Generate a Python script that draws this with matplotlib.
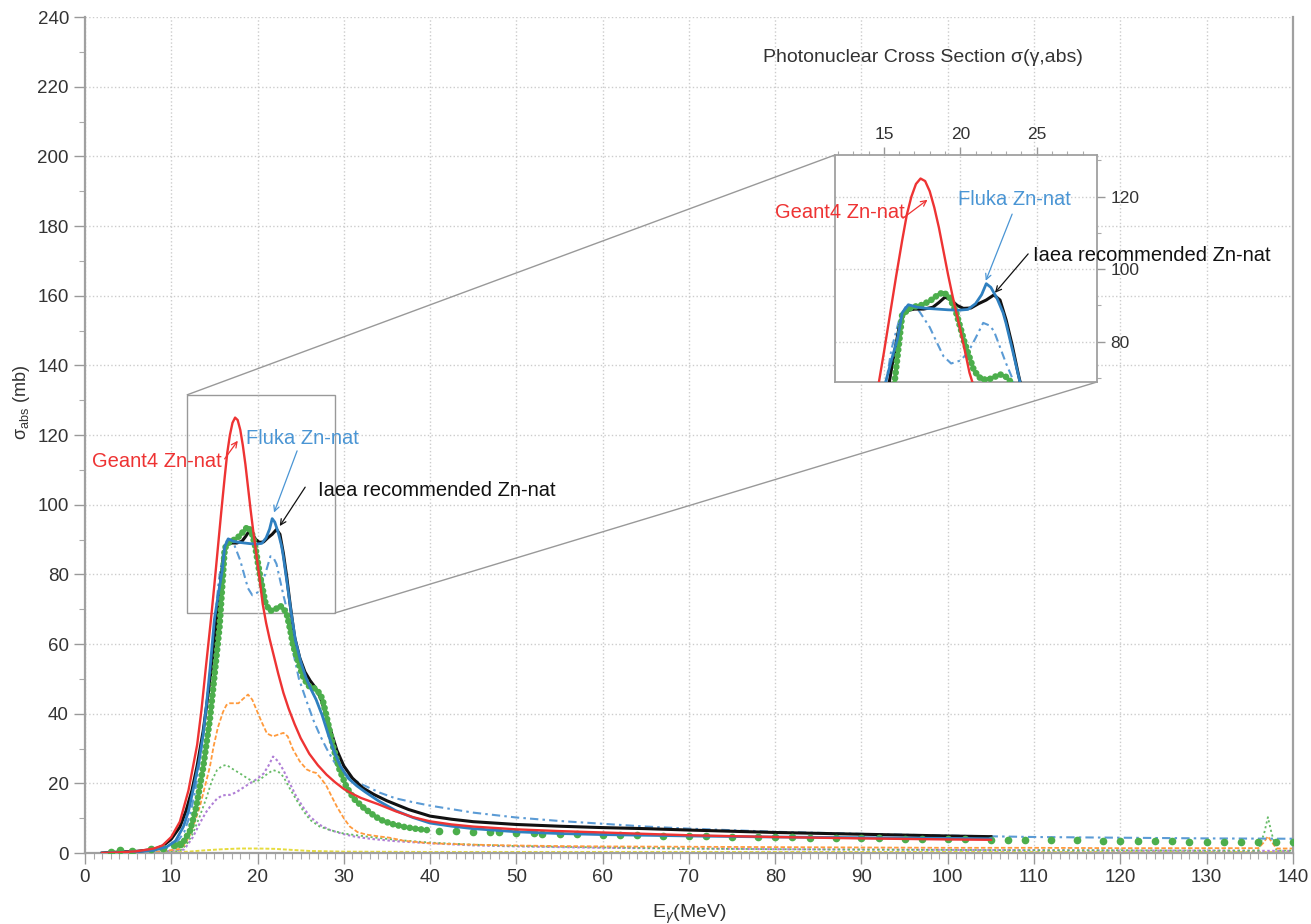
import numpy as np
import matplotlib
matplotlib.use("Agg")
import matplotlib.pyplot as plt
from mpl_toolkits.axes_grid1.inset_locator import mark_inset

plt.rcParams['font.family'] = ['Liberation Sans', 'DejaVu Sans']
plt.rcParams['mathtext.fontset'] = 'custom'
plt.rcParams['mathtext.rm'] = 'Liberation Sans'
plt.rcParams['mathtext.it'] = 'Liberation Sans:italic'

# ---------------- data ----------------
# Geant4 Zn-nat (red solid)
g4_x = [2, 4, 6, 8, 9, 10, 11, 12, 13, 13.5, 14, 14.6, 15.0, 15.4, 15.8, 16.2, 16.5, 16.8, 17.1, 17.4, 17.7,
        18.0, 18.3, 18.6, 18.9, 19.2, 19.5, 19.8, 20.2, 20.6, 21.0, 21.4, 21.9, 22.4, 23.0, 23.6, 24.3, 25,
        26, 27, 28, 29, 30, 31, 32, 34, 36, 38, 40, 42.5, 45, 47.5, 50, 55, 60, 65, 70, 80, 90, 100, 105]
g4_y = [0, 0.2, 0.5, 1.3, 2.2, 4.6, 9, 18, 31, 41, 53, 67, 77, 87.5, 98, 108, 115, 120, 123.5, 125, 124.3,
        121.5, 117, 111.5, 105, 98.5, 92.5, 87, 79.5, 71.5, 66, 61.5, 56.5, 51.5, 46, 41.5, 37, 33,
        28.5, 25.2, 22.5, 20.3, 18.4, 17.0, 15.8, 14.0, 12.0, 10.3, 9.1, 8.2, 7.6, 7.2, 6.8, 6.3, 5.9, 5.5,
        5.1, 4.6, 4.2, 3.9, 3.8]

# Fluka Zn-nat (blue solid)
fl_x = [2, 4, 6, 8, 9.5, 10.5, 11.4, 12.0, 12.7, 13.2, 13.7, 14.1, 14.5, 15.0, 15.5, 15.9, 16.2, 16.6, 17.2,
        17.8, 18.5, 19.2, 19.9, 20.5, 21.0, 21.4, 21.7, 22.0, 22.4, 22.8, 23.0, 23.4, 23.9, 24.4, 25.0, 25.6,
        26.2, 26.8, 27.5, 28.2, 28.9, 29.6, 30.5, 31.5, 32.5, 34, 36, 38, 40, 42.5, 45, 50, 55, 60, 70, 80,
        90, 100, 105]
fl_y = [0, 0.2, 0.4, 0.8, 1.8, 3.5, 7.5, 12, 20, 26, 34, 43, 53, 67, 75, 81, 88, 90.2, 89.5,
        89.2, 89, 88.8, 88.7, 88.9, 90.5, 93, 96, 95, 92, 88, 85, 78, 69, 61, 55, 50.5,
        47, 44, 39.5, 34, 29, 25, 21.5, 19.3, 17.5, 15, 12.2, 10.2, 8.6, 7.7, 7.0, 6.1, 5.6, 5.3, 4.9, 4.6,
        4.4, 4.2, 4.1]

# IAEA recommended Zn-nat (black solid)
ia_x = [2, 4, 6, 8, 9, 10, 11, 11.7, 12.4, 13.0, 13.7, 14.3, 14.8, 15.2, 15.6, 16.0, 16.4, 17.0, 17.6, 18.2,
        18.6, 19.0, 19.4, 19.8, 20.2, 20.7, 21.2, 21.7, 22.2, 22.6, 23.0, 23.4, 23.8, 24.3, 24.9, 25.5, 26.1,
        26.7, 27.3, 27.9, 28.5, 29.2, 30.0, 31.0, 32.2, 33.5, 35.0, 37.5, 40, 42.5, 45, 50, 55, 60, 65, 70, 80,
        90, 100, 105]
ia_y = [0, 0.3, 0.5, 1.0, 2.0, 4.0, 7.5, 12, 18, 25, 35, 46, 56, 65, 75, 84, 88.5, 89, 89, 89.5,
        90.8, 92.3, 91.5, 90, 89.2, 89.3, 90.5, 91.5, 92.9, 91.5, 86, 79, 71, 62, 56, 52, 49.5,
        47.5, 44.5, 40, 35, 29.5, 25, 21.5, 18.7, 16.8, 15, 12.5, 10.6, 9.7, 9.0, 8.2, 7.7, 7.3, 7.0, 6.6,
        5.9, 5.4, 4.9, 4.7]

# Experimental data (green dots, dense part)
ex_x = [11.5, 12.2, 12.9, 13.7, 14.5, 15.1, 15.6, 16.2, 16.8, 17.4, 18.0, 18.5, 18.9, 19.3, 19.7, 20.3, 20.9,
        21.4, 22.0, 22.6, 23.0, 23.4, 23.8, 24.1, 24.7, 25.3, 25.9, 26.4, 26.8, 27.3, 27.6, 28.2, 28.8, 29.5,
        30.3, 31.2, 32.2, 33.2, 34.2, 35.5, 37, 38.5, 40]
ex_y = [3.5, 6.5, 13.2, 24.5, 38.8, 53, 65, 87.5, 89.5, 90, 91.2, 92.8, 93.7, 92.2, 88.5, 79.5, 72,
        69.5, 69.8, 71, 70.3, 68.5, 64, 59.8, 55, 50.5, 48, 47.5, 47, 45.5, 43.5, 37, 30.2, 24,
        19, 15.5, 13.2, 11.3, 9.6, 8.4, 7.5, 6.9, 6.5]
# Experimental data (green dots, sparse parts)
exs_x = [3, 4.1, 5.5, 7.7, 9.0, 10.3, 11.0, 41, 43, 45, 47, 48, 50, 52, 53, 55, 57, 60, 62, 64, 67, 70, 72, 75,
         78, 80, 82, 84, 87, 90, 92, 95, 97, 100, 102, 105, 107, 109, 112, 115, 118, 120, 122, 124, 126,
         128, 130, 132, 134, 136, 138, 140]
exs_y = [0.4, 0.9, 0.6, 1.3, 1.5, 2.3, 2.6, 6.3, 6.2, 6.1, 6.0, 6.0, 5.8, 5.7, 5.6, 5.5, 5.4, 5.3, 5.2, 5.1, 5.0,
         4.9, 4.8, 4.7, 4.6, 4.6, 4.5, 4.4, 4.3, 4.3, 4.2, 4.1, 4.0, 4.0, 3.9, 3.8, 3.8, 3.7, 3.6, 3.6, 3.5,
         3.5, 3.4, 3.4, 3.4, 3.3, 3.3, 3.3, 3.2, 3.2, 3.2, 3.2]

# blue dash-dot series
bd_x = [2, 6, 9, 10.5, 11.5, 12.2, 12.8, 13.4, 14, 14.5, 15, 15.5, 16, 16.4, 16.8, 17.3, 18, 18.5, 18.9, 19.4,
        20.0, 20.5, 21.0, 21.5, 21.9, 22.2, 22.6, 23.0, 23.4, 24.1, 24.8, 25.7, 26.5, 27.2, 28.0, 28.8, 29.7,
        30.7, 32, 34.2, 36, 38, 40, 45, 50, 55, 60, 65, 70, 80, 90, 100, 110, 120, 130, 140]
bd_y = [0, 0.3, 1.0, 2.5, 6, 11, 18, 28, 40, 52, 65, 78, 86, 89.5, 90.1, 88.5, 84, 79.5, 76, 74,
        74.8, 77, 81, 85.2, 84.5, 83, 78.5, 74, 70, 58, 50, 43.5, 38, 34, 30, 26.5, 23.5,
        21.8, 19.8, 17.3, 15.7, 14.6, 13.6, 11.6, 10.2, 9.2, 8.4, 7.6, 7.0, 6.1, 5.5, 5.0, 4.6, 4.4, 4.2, 4.1]

# orange dashed series
or_x = [2, 6, 9, 11, 11.6, 12.2, 12.8, 13.3, 14.0, 14.5, 14.9, 15.4, 16.0, 16.4, 16.8, 17.3, 17.8, 18.3, 18.9,
        19.4, 19.9, 20.5, 21.1, 21.8, 22.4, 23.0, 23.5, 24.1, 24.9, 25.7, 26.3, 26.8, 27.4, 28.0, 28.6, 29.2,
        30.0, 30.7, 31.6, 32.6, 34, 35.3, 37, 40, 45, 49, 55, 60, 70, 80, 90, 100, 110, 120, 130, 136,
        136.6, 137.1, 137.6, 138.1, 140]
or_y = [0, 0.1, 0.5, 1.2, 2.5, 5.5, 9.5, 13.2, 20, 25, 30.5, 36, 40.5, 42.5, 43, 43, 43, 44.2, 45.5,
        44, 41, 37.5, 34.3, 33.5, 34, 34.5, 33.5, 29.8, 26.3, 24, 23.3, 23, 21.3, 19.2, 16.2, 13.3,
        10, 7.6, 6.0, 5.3, 4.8, 4.4, 3.5, 2.8, 2.4, 2.2, 2.0, 1.9, 1.8, 1.7, 1.6, 1.5, 1.5, 1.4, 1.4, 1.4,
        3.0, 4.8, 3.0, 1.3, 1.3]

# light green dotted series
lg_x = [2, 8, 11, 11.8, 12.5, 13.3, 14.1, 14.7, 15.3, 15.9, 16.4, 17.2, 18.0, 18.8, 19.5, 20.1, 20.7, 21.3,
        21.8, 22.4, 23.0, 23.7, 24.5, 25.3, 26.1, 27.2, 28.4, 30, 31.5, 33.4, 36, 40, 45, 50, 60, 70, 80,
        90, 100, 110, 120, 130, 136, 136.7, 137.1, 137.5, 138.1, 140]
lg_y = [0, 0.2, 0.6, 2.5, 5.6, 10.5, 16, 20.7, 23.8, 25, 25.3, 24, 22.8, 21.5, 20.5, 20.8, 21.9, 23,
        23.8, 23.4, 21.9, 18.7, 15.3, 12.1, 9.5, 7.6, 6.6, 5.6, 5.1, 4.5, 3.8, 3.0, 2.4, 2.0, 1.6, 1.3, 1.1,
        1.0, 0.9, 0.8, 0.8, 0.7, 0.7, 6, 10.3, 6, 0.7, 0.7]

# purple dotted series
pu_x = [2, 8, 11.5, 12.5, 13.3, 14.0, 14.5, 15.3, 15.9, 16.4, 16.8, 17.5, 18.3, 19.1, 19.9, 20.7, 21.3, 21.8,
        22.4, 23.0, 23.7, 24.5, 25.3, 26.1, 27.2, 28.4, 30, 31.5, 33.4, 36, 40, 45, 50, 60, 70, 80, 90, 100,
        110, 120, 130, 140]
pu_y = [0, 0.2, 1.0, 4.5, 8.5, 11.6, 13.3, 15.6, 16.5, 16.7, 16.7, 17.4, 18.7, 20, 21.2, 22.8, 25.2, 27.7,
        26.3, 23.8, 20.2, 16.2, 13.1, 10.4, 8.1, 6.6, 5.4, 4.6, 4.0, 3.4, 2.8, 2.2, 1.9, 1.5, 1.3, 1.1, 1.0,
        0.9, 0.8, 0.7, 0.7, 0.6]

# yellow near-zero series
ye_x = [2, 10, 12, 14, 16, 18, 20, 22, 24, 26, 30, 40, 60, 80, 100, 120, 140]
ye_y = [0.1, 0.2, 0.4, 0.8, 1.1, 1.3, 1.3, 1.2, 0.9, 0.6, 0.4, 0.3, 0.3, 0.3, 0.3, 0.3, 0.3]

x_ticks = list(range(0, 141, 10))
y_ticks = list(range(0, 241, 20))
inset_xticks = [15, 20, 25]
inset_yticks = [80, 100, 120]

RED = '#ee3333'
BLUE = '#2f80c0'
LBLUE = '#4a95d4'
GREEN = '#4cae4c'


def draw(ax):
    ax.plot(ye_x, ye_y, color='#e6dc3c', lw=1.4, ls=(0, (2, 1)), zorder=2)
    ax.plot(pu_x, pu_y, color='#b07fd6', lw=1.5, ls=(0, (1.2, 1.2)), zorder=2)
    ax.plot(lg_x, lg_y, color='#66bb66', lw=1.3, ls=(0, (1.2, 1.5)), zorder=2)
    ax.plot(or_x, or_y, color='#ff9a3c', lw=1.3, ls=(0, (2.5, 1.2)), zorder=2)
    ax.plot(bd_x, bd_y, color='#5b9bd5', lw=1.5, ls=(0, (4, 2, 1.2, 2)), zorder=3)
    ax.plot(ia_x, ia_y, color='#111111', lw=2.2, zorder=4)
    ax.plot(ex_x, ex_y, color=GREEN, lw=4.8, ls=(0, (0.01, 0.85)), dash_capstyle='round', zorder=5)
    ax.plot(exs_x, exs_y, color=GREEN, ls='none', marker='o', ms=4.5, zorder=5)
    ax.plot(fl_x, fl_y, color=BLUE, lw=2.0, zorder=6)
    ax.plot(g4_x, g4_y, color=RED, lw=1.7, zorder=7)


fig = plt.figure(figsize=(13.11, 9.24), dpi=100)
ax = fig.add_axes([0.0648, 0.0768, 0.9214, 0.9048])
draw(ax)
ax.set_xlim(0, 140)
ax.set_ylim(0, 240)
ax.set_xticks(x_ticks)
ax.set_yticks(y_ticks)
ax.set_xticks(np.arange(0, 141, 1), minor=True)
ax.set_yticks(np.arange(0, 241, 10), minor=True)
ax.tick_params(which='major', direction='out', length=8, width=1, color='#999999',
               labelsize=13.5, labelcolor='#333333')
ax.tick_params(which='minor', direction='out', length=4, width=0.8, color='#aaaaaa')
ax.grid(True, which='major', ls=':', color='#cccccc', lw=1)
for s in ['left', 'bottom', 'right']:
    ax.spines[s].set_color('#a0a0a0')
    ax.spines[s].set_linewidth(1.6)
ax.spines['top'].set_visible(False)
ax.set_xlabel('E$_{\\gamma}$(MeV)', fontsize=14, color='#333333', labelpad=12)
ax.set_ylabel('σ$_{\\mathrm{abs}}$ (mb)', fontsize=13, color='#333333')
ax.yaxis.set_label_coords(-0.044, 0.539)

fig.text(0.704, 0.938, 'Photonuclear Cross Section σ(γ,abs)', ha='center', va='center',
         fontsize=14, color='#333333')

# annotations main
ax.text(15.9, 112.3, 'Geant4 Zn-nat', color=RED, fontsize=14.5, ha='right', va='center', zorder=8)
ax.annotate('', xy=(17.9, 119), xytext=(16.0, 112.5),
            arrowprops=dict(arrowstyle='->', color=RED, lw=0.9), zorder=8)
ax.text(18.7, 119.1, 'Fluka Zn-nat', color=LBLUE, fontsize=14.5, ha='left', va='center', zorder=8)
ax.annotate('', xy=(21.8, 97.0), xytext=(24.7, 116.2),
            arrowprops=dict(arrowstyle='->', color=LBLUE, lw=0.9), zorder=8)
ax.text(27.0, 104.2, 'Iaea recommended Zn-nat', color='#111111', fontsize=14.5, ha='left', va='center', zorder=8)
ax.annotate('', xy=(22.4, 93.2), xytext=(25.7, 105.7),
            arrowprops=dict(arrowstyle='->', color='#111111', lw=0.9), zorder=8)

# inset
axins = fig.add_axes([0.6369, 0.5866, 0.1999, 0.2457])
draw(axins)
axins.set_xlim(11.8, 28.95)
axins.set_ylim(68.9, 131.5)
axins.set_xticks(inset_xticks)
axins.set_yticks(inset_yticks)
axins.set_xticks(np.arange(12, 29, 1), minor=True)
axins.set_yticks([70, 90, 110, 130], minor=True)
axins.xaxis.tick_top()
axins.yaxis.tick_right()
axins.tick_params(which='major', direction='out', length=6, width=1, color='#999999',
                  labelsize=12.5, labelcolor='#333333')
axins.tick_params(which='minor', direction='out', length=3, width=0.8, color='#aaaaaa')
axins.grid(True, which='major', ls=':', color='#cccccc', lw=1)
for s in axins.spines.values():
    s.set_color('#a0a0a0')
    s.set_linewidth(1.3)
axins.set_facecolor('white')

axins.text(16.35, 115.5, 'Geant4 Zn-nat', color=RED, fontsize=14.5, ha='right', va='center', zorder=8)
axins.annotate('', xy=(18.0, 119.6), xytext=(16.1, 113.6),
               arrowprops=dict(arrowstyle='->', color=RED, lw=0.9), zorder=8, annotation_clip=False)
axins.text(19.84, 119.1, 'Fluka Zn-nat', color=LBLUE, fontsize=14.5, ha='left', va='center', zorder=8)
axins.annotate('', xy=(21.6, 96.1), xytext=(23.46, 115.9),
               arrowprops=dict(arrowstyle='->', color=LBLUE, lw=0.9), zorder=8, annotation_clip=False)
axins.text(24.76, 103.9, 'Iaea recommended Zn-nat', color='#111111', fontsize=14.5, ha='left', va='center',
           zorder=8)
axins.annotate('', xy=(22.15, 92.9), xytext=(24.56, 104.8),
               arrowprops=dict(arrowstyle='->', color='#111111', lw=0.9), zorder=8, annotation_clip=False)

mark_inset(ax, axins, loc1=2, loc2=4, fc='none', ec='#999999', lw=1.0)

fig.savefig('out.png', dpi=100)
